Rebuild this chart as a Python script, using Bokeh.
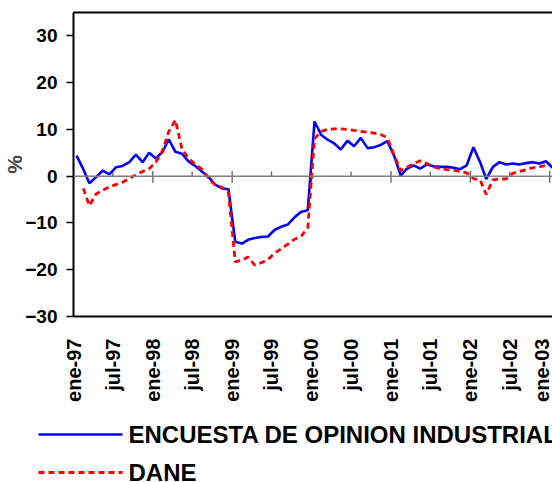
import math
import numpy as np
import pandas as pd
from bokeh.plotting import figure
from bokeh.layouts import column, row
from bokeh.core.properties import value
from bokeh.models import FixedTicker, LinearAxis, Range1d, Span
from bokeh.embed import file_html
from bokeh.resources import INLINE

# ---- data (monthly, ene-97 .. ene-03) ----
month_start = "1997-01-01"
n_months = 73
encuesta = [4.4, 1.5, -1.5, -0.2, 1.2, 0.4, 1.9, 2.2, 3.0, 4.6, 3.0, 5.0,
            3.8, 5.2, 7.9, 5.2, 4.8, 3.1, 2.2, 1.0, -0.2, -1.8, -2.6, -2.8,
            -14.0, -14.4, -13.6, -13.2, -13.0, -12.9, -11.5, -10.8, -10.3, -8.8, -7.6, -7.3,
            11.7, 8.8, 7.8, 7.0, 5.7, 7.6, 6.4, 8.2, 6.0, 6.2, 6.7, 7.5,
            4.4, 0.1, 1.6, 2.3, 1.6, 2.5, 2.1, 2.0, 2.0, 1.8, 1.5, 2.3,
            6.2, 3.0, -0.6, 2.0, 3.0, 2.5, 2.7, 2.5, 2.8, 3.0, 2.7, 3.2,
            1.8]
dane = [np.nan, -2.6, -6.3, -3.8, -3.0, -2.3, -1.8, -1.3, -0.5, 0.3, 1.0, 1.6,
        3.0, 5.5, 9.5, 12.0, 5.8, 3.8, 2.5, 1.5, -0.5, -1.9, -2.4, -3.5,
        -18.3, -18.0, -17.3, -19.0, -18.5, -17.8, -16.5, -15.5, -14.5, -13.5, -12.8, -11.0,
        8.0, 9.6, 10.0, 10.1, 10.1, 10.0, 9.8, 9.6, 9.4, 9.2, 8.9, 8.2,
        4.5, 1.2, 1.9, 2.7, 3.3, 2.7, 2.0, 1.6, 1.4, 1.3, 1.0, 0.7,
        -0.5, -0.8, -3.9, -0.8, -0.6, -0.6, 0.6, 1.0, 1.4, 1.8, 2.0, 2.3,
        np.nan]
tick_labels = ["ene-97", "jul-97", "ene-98", "jul-98", "ene-99", "jul-99",
               "ene-00", "jul-00", "ene-01", "jul-01", "ene-02", "jul-02", "ene-03"]
y_ticks = [-30, -20, -10, 0, 10, 20, 30]
series_names = ["ENCUESTA DE OPINION INDUSTRIAL", "DANE"]
y_title = "%"

BLUE = "#0000FF"
RED = "#FF0000"
FONT = "Liberation Sans"

# dates: values plotted mid-month
dates = pd.date_range(month_start, periods=n_months, freq="MS") + pd.Timedelta(days=14)
tick_dates = pd.date_range(month_start, periods=len(tick_labels), freq="6MS")
tick_ms = [float(t.value // 10**6) for t in tick_dates]

p = figure(width=552, height=404, x_axis_type="datetime",
           x_range=Range1d(pd.Timestamp("1997-01-01"), pd.Timestamp("2003-01-14")),
           y_range=Range1d(-30, 35),
           output_backend="svg", toolbar_location=None,
           min_border_left=69, min_border_right=0, min_border_top=12, min_border_bottom=84)
p.grid.visible = False
p.outline_line_color = None

# zero line and its ticks
p.add_layout(Span(location=0, dimension="width", line_color="#808080", line_width=1.5))
major_d = [d for d in tick_dates if d.month == 1]
minor_d = [d for d in tick_dates if d.month == 7]
p.segment(x0=major_d, y0=[-1.4] * len(major_d), x1=major_d, y1=[1.1] * len(major_d),
          line_color="#606060", line_width=1.3)
p.segment(x0=minor_d, y0=[0] * len(minor_d), x1=minor_d, y1=[1.0] * len(minor_d),
          line_color="#606060", line_width=1.3)

p.line(dates, encuesta, line_color=BLUE, line_width=2.6)
p.line(dates, dane, line_color=RED, line_width=2.8, line_dash="6 4")

# y axis
ya = p.yaxis[0]
ya.ticker = FixedTicker(ticks=y_ticks)
ya.axis_line_width = 2
ya.axis_line_color = "black"
ya.major_tick_line_width = 1.5
ya.major_tick_out = 7
ya.major_tick_in = 0
ya.minor_tick_line_color = None
ya.major_label_standoff = 9
ya.major_label_text_font = FONT
ya.major_label_text_font_style = "bold"
ya.major_label_text_font_size = "19px"
ya.major_label_text_color = "black"
ya.axis_label = y_title
ya.axis_label_text_font = FONT
ya.axis_label_text_font_style = "bold"
ya.axis_label_text_font_size = "21px"
ya.axis_label_standoff = -4

# x axis
xa = p.xaxis[0]
xa.ticker = FixedTicker(ticks=tick_ms)
xa.major_label_overrides = {ms: lab for ms, lab in zip(tick_ms, tick_labels)}
xa.major_label_orientation = math.pi / 2
xa.axis_line_width = 2
xa.axis_line_color = "black"
xa.major_tick_line_color = None
xa.minor_tick_line_color = None
xa.major_label_standoff = 16
xa.major_label_text_font = FONT
xa.major_label_text_font_style = "bold"
xa.major_label_text_font_size = "20px"
xa.major_label_text_color = "black"

# top border line
top = LinearAxis(major_tick_line_color=None, minor_tick_line_color=None,
                 major_label_text_font_size="0px", major_label_text_color=None,
                 major_tick_out=0, major_tick_in=0, major_label_standoff=0,
                 axis_line_width=2, axis_line_color="black")
p.add_layout(top, "above")

# legend strip below the chart (pixel coordinates, y downwards)
lg = figure(width=552, height=78, output_backend="svg", toolbar_location=None,
            x_axis_location=None, y_axis_location=None,
            min_border=0, min_border_left=0, min_border_right=0,
            min_border_top=0, min_border_bottom=0,
            x_range=Range1d(0, 552), y_range=Range1d(78, 0))
lg.grid.visible = False
lg.outline_line_color = None
row_y = [30, 68]
lg.line([38, 122], [row_y[0]] * 2, line_color=BLUE, line_width=2.6)
lg.line([38, 122], [row_y[1]] * 2, line_color=RED, line_width=2.8, line_dash="6 4")
lg.text(x=[128, 128], y=row_y, text=series_names, text_font=value(FONT),
        text_font_style="bold", text_font_size="24px", text_color="black",
        text_baseline="middle", text_align="left")

open("out.html", "w").write(file_html(column(p, row(lg), spacing=0), INLINE))
